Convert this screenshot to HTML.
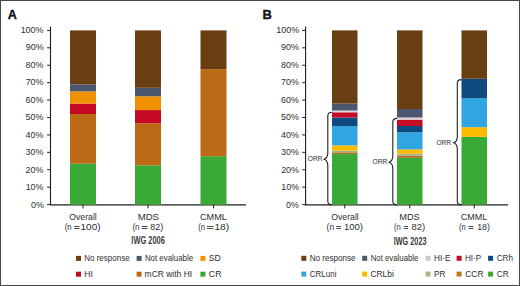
<!DOCTYPE html>
<html><head><meta charset="utf-8"><style>
html,body{margin:0;padding:0;background:#fff;}
.wrap{position:relative;width:520px;height:286px;overflow:hidden;}
svg{display:block;font-family:"Liberation Sans",sans-serif;}
</style></head><body><div class="wrap">
<svg width="520" height="286" viewBox="0 0 520 286">
<rect x="0" y="0" width="520" height="286" fill="#fff"/>
<line x1="50.5" y1="26.6" x2="50.5" y2="205.2" stroke="#1e1e1e" stroke-width="1.1"/>
<line x1="50.0" y1="204.9" x2="246" y2="204.9" stroke="#1e1e1e" stroke-width="1.4"/>
<line x1="47.1" y1="204.60" x2="50.5" y2="204.60" stroke="#1e1e1e" stroke-width="1"/>
<line x1="47.1" y1="187.18" x2="50.5" y2="187.18" stroke="#1e1e1e" stroke-width="1"/>
<line x1="47.1" y1="169.76" x2="50.5" y2="169.76" stroke="#1e1e1e" stroke-width="1"/>
<line x1="47.1" y1="152.34" x2="50.5" y2="152.34" stroke="#1e1e1e" stroke-width="1"/>
<line x1="47.1" y1="134.92" x2="50.5" y2="134.92" stroke="#1e1e1e" stroke-width="1"/>
<line x1="47.1" y1="117.50" x2="50.5" y2="117.50" stroke="#1e1e1e" stroke-width="1"/>
<line x1="47.1" y1="100.08" x2="50.5" y2="100.08" stroke="#1e1e1e" stroke-width="1"/>
<line x1="47.1" y1="82.66" x2="50.5" y2="82.66" stroke="#1e1e1e" stroke-width="1"/>
<line x1="47.1" y1="65.24" x2="50.5" y2="65.24" stroke="#1e1e1e" stroke-width="1"/>
<line x1="47.1" y1="47.82" x2="50.5" y2="47.82" stroke="#1e1e1e" stroke-width="1"/>
<line x1="47.1" y1="30.40" x2="50.5" y2="30.40" stroke="#1e1e1e" stroke-width="1"/>
<rect x="70.00" y="163.66" width="26.00" height="40.94" fill="#39aa35"/>
<rect x="70.00" y="114.02" width="26.00" height="49.65" fill="#bc6a16"/>
<rect x="70.00" y="103.56" width="26.00" height="10.45" fill="#c50a26"/>
<rect x="70.00" y="91.37" width="26.00" height="12.19" fill="#f29100"/>
<rect x="70.00" y="84.40" width="26.00" height="6.97" fill="#4b576f"/>
<rect x="70.00" y="30.40" width="26.00" height="54.00" fill="#6a3e13"/>
<line x1="83" y1="204.6" x2="83" y2="208.4" stroke="#1e1e1e" stroke-width="1"/>
<rect x="135.00" y="165.30" width="26.00" height="39.30" fill="#39aa35"/>
<rect x="135.00" y="123.24" width="26.00" height="42.06" fill="#bc6a16"/>
<rect x="135.00" y="110.06" width="26.00" height="13.17" fill="#c50a26"/>
<rect x="135.00" y="96.26" width="26.00" height="13.81" fill="#f29100"/>
<rect x="135.00" y="87.76" width="26.00" height="8.50" fill="#4b576f"/>
<rect x="135.00" y="30.40" width="26.00" height="57.36" fill="#6a3e13"/>
<line x1="148" y1="204.6" x2="148" y2="208.4" stroke="#1e1e1e" stroke-width="1"/>
<rect x="200.50" y="156.21" width="26.00" height="48.39" fill="#39aa35"/>
<rect x="200.50" y="69.11" width="26.00" height="87.10" fill="#bc6a16"/>
<rect x="200.50" y="30.40" width="26.00" height="38.71" fill="#6a3e13"/>
<line x1="213.5" y1="204.6" x2="213.5" y2="208.4" stroke="#1e1e1e" stroke-width="1"/>
<rect x="74.20" y="226.00" width="5.30" height="1.00" fill="#4a4a4a"/>
<rect x="74.20" y="228.00" width="5.30" height="1.00" fill="#4a4a4a"/>
<rect x="141.70" y="226.00" width="5.80" height="1.00" fill="#4a4a4a"/>
<rect x="141.70" y="228.00" width="5.80" height="1.00" fill="#4a4a4a"/>
<rect x="207.00" y="226.00" width="6.50" height="1.00" fill="#4a4a4a"/>
<rect x="207.00" y="228.00" width="6.50" height="1.00" fill="#4a4a4a"/>
<line x1="305.6" y1="26.6" x2="305.6" y2="205.2" stroke="#1e1e1e" stroke-width="1.1"/>
<line x1="305.1" y1="204.9" x2="508" y2="204.9" stroke="#1e1e1e" stroke-width="1.4"/>
<line x1="302.20000000000005" y1="204.60" x2="305.6" y2="204.60" stroke="#1e1e1e" stroke-width="1"/>
<line x1="302.20000000000005" y1="187.18" x2="305.6" y2="187.18" stroke="#1e1e1e" stroke-width="1"/>
<line x1="302.20000000000005" y1="169.76" x2="305.6" y2="169.76" stroke="#1e1e1e" stroke-width="1"/>
<line x1="302.20000000000005" y1="152.34" x2="305.6" y2="152.34" stroke="#1e1e1e" stroke-width="1"/>
<line x1="302.20000000000005" y1="134.92" x2="305.6" y2="134.92" stroke="#1e1e1e" stroke-width="1"/>
<line x1="302.20000000000005" y1="117.50" x2="305.6" y2="117.50" stroke="#1e1e1e" stroke-width="1"/>
<line x1="302.20000000000005" y1="100.08" x2="305.6" y2="100.08" stroke="#1e1e1e" stroke-width="1"/>
<line x1="302.20000000000005" y1="82.66" x2="305.6" y2="82.66" stroke="#1e1e1e" stroke-width="1"/>
<line x1="302.20000000000005" y1="65.24" x2="305.6" y2="65.24" stroke="#1e1e1e" stroke-width="1"/>
<line x1="302.20000000000005" y1="47.82" x2="305.6" y2="47.82" stroke="#1e1e1e" stroke-width="1"/>
<line x1="302.20000000000005" y1="30.40" x2="305.6" y2="30.40" stroke="#1e1e1e" stroke-width="1"/>
<rect x="332.00" y="154.08" width="25.50" height="50.52" fill="#39aa35"/>
<rect x="332.00" y="152.34" width="25.50" height="1.74" fill="#b0702a"/>
<rect x="332.00" y="150.60" width="25.50" height="1.74" fill="#aeae7c"/>
<rect x="332.00" y="145.37" width="25.50" height="5.23" fill="#fcba00"/>
<rect x="332.00" y="126.21" width="25.50" height="19.16" fill="#2fa6e1"/>
<rect x="332.00" y="117.50" width="25.50" height="8.71" fill="#0d4a7f"/>
<rect x="332.00" y="112.27" width="25.50" height="5.23" fill="#c50a26"/>
<rect x="332.00" y="110.53" width="25.50" height="1.74" fill="#dcd6da"/>
<rect x="332.00" y="103.56" width="25.50" height="6.97" fill="#4b576f"/>
<rect x="332.00" y="30.40" width="25.50" height="73.16" fill="#6a3e13"/>
<line x1="344.75" y1="204.6" x2="344.75" y2="208.4" stroke="#1e1e1e" stroke-width="1"/>
<path d="M332,112.3 C329.0,112.3 327.8,113.5 327.8,115.89999999999999 L327.8,153.0 C327.8,156.2 326.6,158.2 324.2,159.2 C326.6,160.2 327.8,162.2 327.8,165.39999999999998 L327.8,201.3 C327.8,203.70000000000002 329.0,204.9 332,204.9" fill="none" stroke="#222" stroke-width="1.1"/>
<rect x="397.00" y="157.86" width="25.50" height="46.74" fill="#39aa35"/>
<rect x="397.00" y="155.74" width="25.50" height="2.12" fill="#b0702a"/>
<rect x="397.00" y="153.61" width="25.50" height="2.12" fill="#aeae7c"/>
<rect x="397.00" y="149.37" width="25.50" height="4.25" fill="#fcba00"/>
<rect x="397.00" y="132.37" width="25.50" height="17.00" fill="#2fa6e1"/>
<rect x="397.00" y="126.00" width="25.50" height="6.37" fill="#0d4a7f"/>
<rect x="397.00" y="119.62" width="25.50" height="6.37" fill="#c50a26"/>
<rect x="397.00" y="117.50" width="25.50" height="2.12" fill="#dcd6da"/>
<rect x="397.00" y="109.00" width="25.50" height="8.50" fill="#4b576f"/>
<rect x="397.00" y="30.40" width="25.50" height="78.60" fill="#6a3e13"/>
<line x1="409.75" y1="204.6" x2="409.75" y2="208.4" stroke="#1e1e1e" stroke-width="1"/>
<path d="M397,118.4 C394.0,118.4 392.8,119.60000000000001 392.8,122.0 L392.8,156.05 C392.8,159.25 391.6,161.25 389.2,162.25 C391.6,163.25 392.8,165.25 392.8,168.45 L392.8,201.3 C392.8,203.70000000000002 394.0,204.9 397,204.9" fill="none" stroke="#222" stroke-width="1.1"/>
<rect x="461.50" y="136.86" width="25.50" height="67.74" fill="#39aa35"/>
<rect x="461.50" y="127.18" width="25.50" height="9.68" fill="#fcba00"/>
<rect x="461.50" y="98.14" width="25.50" height="29.03" fill="#2fa6e1"/>
<rect x="461.50" y="78.79" width="25.50" height="19.36" fill="#0d4a7f"/>
<rect x="461.50" y="30.40" width="25.50" height="48.39" fill="#6a3e13"/>
<line x1="474.25" y1="204.6" x2="474.25" y2="208.4" stroke="#1e1e1e" stroke-width="1"/>
<path d="M461.5,79.6 C458.5,79.6 457.3,80.8 457.3,83.19999999999999 L457.3,136.65 C457.3,139.85 456.1,141.85 453.7,142.85 C456.1,143.85 457.3,145.85 457.3,149.04999999999998 L457.3,201.3 C457.3,203.70000000000002 458.5,204.9 461.5,204.9" fill="none" stroke="#222" stroke-width="1.1"/>
<rect x="336.20" y="226.00" width="4.80" height="1.00" fill="#4a4a4a"/>
<rect x="336.20" y="228.00" width="4.80" height="1.00" fill="#4a4a4a"/>
<rect x="403.80" y="226.00" width="4.40" height="1.00" fill="#4a4a4a"/>
<rect x="403.80" y="228.00" width="4.40" height="1.00" fill="#4a4a4a"/>
<rect x="468.40" y="226.00" width="5.10" height="1.00" fill="#4a4a4a"/>
<rect x="468.40" y="228.00" width="5.10" height="1.00" fill="#4a4a4a"/>
<rect x="76.00" y="255.90" width="5.00" height="5.00" fill="#6a3e13"/>
<rect x="136.60" y="255.90" width="5.00" height="5.00" fill="#4b576f"/>
<rect x="200.40" y="255.90" width="5.00" height="5.00" fill="#f29100"/>
<rect x="76.00" y="271.70" width="5.00" height="5.00" fill="#c50a26"/>
<rect x="136.60" y="271.70" width="5.00" height="5.00" fill="#bc6a16"/>
<rect x="200.40" y="271.70" width="5.00" height="5.00" fill="#39aa35"/>
<rect x="301.30" y="255.80" width="5.00" height="5.00" fill="#6a3e13"/>
<rect x="362.20" y="255.80" width="5.00" height="5.00" fill="#4b576f"/>
<rect x="425.60" y="255.80" width="5.00" height="5.00" fill="#c9c8cc"/>
<rect x="456.60" y="255.80" width="5.00" height="5.00" fill="#c50a26"/>
<rect x="488.10" y="255.80" width="5.00" height="5.00" fill="#0d4a7f"/>
<rect x="301.30" y="271.60" width="5.00" height="5.00" fill="#2fa6e1"/>
<rect x="362.20" y="271.60" width="5.00" height="5.00" fill="#fcba00"/>
<rect x="425.60" y="271.60" width="5.00" height="5.00" fill="#a9b486"/>
<rect x="456.60" y="271.60" width="5.00" height="5.00" fill="#bd7722"/>
<rect x="488.10" y="271.60" width="5.00" height="5.00" fill="#39aa35"/>
<text x="0" y="18.60" font-size="13.5" font-weight="bold" stroke="#111" stroke-width="0.35" fill="#111" transform="matrix(0.9351 0 0 1 7.805 0)">A</text>
<text x="0" y="208.00" font-size="8.3" fill="#2e2e2e" transform="matrix(1.0800 0 0 1 30.950 0)">0%</text>
<text x="0" y="190.00" font-size="8.3" fill="#2e2e2e" transform="matrix(1.0800 0 0 1 25.642 0)">10%</text>
<text x="0" y="173.00" font-size="8.3" fill="#2e2e2e" transform="matrix(1.0800 0 0 1 25.562 0)">20%</text>
<text x="0" y="155.00" font-size="8.3" fill="#2e2e2e" transform="matrix(1.0800 0 0 1 25.480 0)">30%</text>
<text x="0" y="138.00" font-size="8.3" fill="#2e2e2e" transform="matrix(1.0800 0 0 1 25.463 0)">40%</text>
<text x="0" y="120.00" font-size="8.3" fill="#2e2e2e" transform="matrix(1.0800 0 0 1 25.570 0)">50%</text>
<text x="0" y="103.00" font-size="8.3" fill="#2e2e2e" transform="matrix(1.0800 0 0 1 25.490 0)">60%</text>
<text x="0" y="85.00" font-size="8.3" fill="#2e2e2e" transform="matrix(1.0800 0 0 1 25.645 0)">70%</text>
<text x="0" y="68.00" font-size="8.3" fill="#2e2e2e" transform="matrix(1.0800 0 0 1 25.463 0)">80%</text>
<text x="0" y="50.00" font-size="8.3" fill="#2e2e2e" transform="matrix(1.0800 0 0 1 25.855 0)">90%</text>
<text x="0" y="33.00" font-size="8.3" fill="#2e2e2e" transform="matrix(1.0800 0 0 1 20.641 0)">100%</text>
<text x="0" y="219.60" font-size="8.5" fill="#2e2e2e" transform="matrix(1.0214 0 0 1 69.297 0)">Overall</text>
<text x="0" y="219.60" font-size="8.5" fill="#2e2e2e" transform="matrix(1.1258 0 0 1 137.665 0)">MDS</text>
<text x="0" y="219.60" font-size="8.5" fill="#2e2e2e" transform="matrix(1.0782 0 0 1 199.987 0)">CMML</text>
<text x="0" y="229.60" font-size="8.3" fill="#2e2e2e" transform="matrix(0.9455 0 0 1 64.719 0)">(n</text>
<text x="0" y="229.60" font-size="8.3" fill="#2e2e2e" transform="matrix(1.2091 0 0 1 80.537 0)">100)</text>
<text x="0" y="229.60" font-size="8.3" fill="#2e2e2e" transform="matrix(0.9667 0 0 1 132.406 0)">(n</text>
<text x="0" y="229.60" font-size="8.3" fill="#2e2e2e" transform="matrix(1.0760 0 0 1 150.338 0)">82)</text>
<text x="0" y="229.60" font-size="8.3" fill="#2e2e2e" transform="matrix(0.9387 0 0 1 198.274 0)">(n</text>
<text x="0" y="229.60" font-size="8.3" fill="#2e2e2e" transform="matrix(1.2291 0 0 1 214.409 0)">18)</text>
<text x="0" y="244.00" font-size="10.2" font-weight="bold" fill="#3c3c3c" transform="matrix(0.7290 0 0 1 131.357 0)">IWG 2006</text>
<text x="0" y="18.60" font-size="13.5" font-weight="bold" stroke="#111" stroke-width="0.35" fill="#111" transform="matrix(0.9566 0 0 1 262.617 0)">B</text>
<text x="0" y="208.00" font-size="8.3" fill="#2e2e2e" transform="matrix(1.0800 0 0 1 286.032 0)">0%</text>
<text x="0" y="190.00" font-size="8.3" fill="#2e2e2e" transform="matrix(1.0800 0 0 1 281.205 0)">10%</text>
<text x="0" y="173.00" font-size="8.3" fill="#2e2e2e" transform="matrix(1.0800 0 0 1 281.145 0)">20%</text>
<text x="0" y="155.00" font-size="8.3" fill="#2e2e2e" transform="matrix(1.0800 0 0 1 281.019 0)">30%</text>
<text x="0" y="138.00" font-size="8.3" fill="#2e2e2e" transform="matrix(1.0800 0 0 1 281.019 0)">40%</text>
<text x="0" y="120.00" font-size="8.3" fill="#2e2e2e" transform="matrix(1.0800 0 0 1 281.108 0)">50%</text>
<text x="0" y="103.00" font-size="8.3" fill="#2e2e2e" transform="matrix(1.0800 0 0 1 281.030 0)">60%</text>
<text x="0" y="85.00" font-size="8.3" fill="#2e2e2e" transform="matrix(1.0800 0 0 1 281.070 0)">70%</text>
<text x="0" y="68.00" font-size="8.3" fill="#2e2e2e" transform="matrix(1.0800 0 0 1 281.019 0)">80%</text>
<text x="0" y="50.00" font-size="8.3" fill="#2e2e2e" transform="matrix(1.0800 0 0 1 281.019 0)">90%</text>
<text x="0" y="33.00" font-size="8.3" fill="#2e2e2e" transform="matrix(1.0800 0 0 1 276.211 0)">100%</text>
<text x="0" y="161.10" font-size="6.7" fill="#2e2e2e" transform="matrix(0.9991 0 0 1 307.807 0)">ORR</text>
<text x="0" y="164.15" font-size="6.7" fill="#2e2e2e" transform="matrix(0.9894 0 0 1 372.599 0)">ORR</text>
<text x="0" y="144.75" font-size="6.7" fill="#2e2e2e" transform="matrix(0.9875 0 0 1 436.432 0)">ORR</text>
<text x="0" y="220.10" font-size="8.5" fill="#2e2e2e" transform="matrix(1.0214 0 0 1 331.297 0)">Overall</text>
<text x="0" y="220.10" font-size="8.5" fill="#2e2e2e" transform="matrix(1.0850 0 0 1 399.289 0)">MDS</text>
<text x="0" y="220.10" font-size="8.5" fill="#2e2e2e" transform="matrix(1.0600 0 0 1 460.752 0)">CMML</text>
<text x="0" y="230.10" font-size="8.3" fill="#2e2e2e" transform="matrix(1.0316 0 0 1 326.530 0)">(n</text>
<text x="0" y="230.10" font-size="8.3" fill="#2e2e2e" transform="matrix(1.1493 0 0 1 343.962 0)">100)</text>
<text x="0" y="230.10" font-size="8.3" fill="#2e2e2e" transform="matrix(0.9156 0 0 1 393.964 0)">(n</text>
<text x="0" y="230.10" font-size="8.3" fill="#2e2e2e" transform="matrix(1.1379 0 0 1 411.527 0)">82)</text>
<text x="0" y="230.10" font-size="8.3" fill="#2e2e2e" transform="matrix(0.9156 0 0 1 458.964 0)">(n</text>
<text x="0" y="230.10" font-size="8.3" fill="#2e2e2e" transform="matrix(1.0637 0 0 1 477.200 0)">18)</text>
<text x="0" y="244.60" font-size="10.2" font-weight="bold" fill="#3c3c3c" transform="matrix(0.7149 0 0 1 393.696 0)">IWG 2023</text>
<text x="0" y="260.90" font-size="8.2" fill="#2e2e2e" transform="matrix(0.9768 0 0 1 84.244 0)">No response</text>
<text x="0" y="260.90" font-size="8.2" fill="#2e2e2e" transform="matrix(0.9621 0 0 1 144.903 0)">Not evaluable</text>
<text x="0" y="260.90" font-size="8.2" fill="#2e2e2e" transform="matrix(1.0536 0 0 1 208.640 0)">SD</text>
<text x="0" y="276.70" font-size="8.2" fill="#2e2e2e" transform="matrix(1.0420 0 0 1 84.219 0)">HI</text>
<text x="0" y="276.70" font-size="8.2" fill="#2e2e2e" transform="matrix(1.0337 0 0 1 144.592 0)">mCR with HI</text>
<text x="0" y="276.70" font-size="8.2" fill="#2e2e2e" transform="matrix(1.0901 0 0 1 208.789 0)">CR</text>
<text x="0" y="260.80" font-size="8.2" fill="#2e2e2e" transform="matrix(0.9881 0 0 1 309.676 0)">No response</text>
<text x="0" y="260.80" font-size="8.2" fill="#2e2e2e" transform="matrix(0.9555 0 0 1 370.650 0)">Not evaluable</text>
<text x="0" y="260.80" font-size="8.2" fill="#2e2e2e" transform="matrix(1.0027 0 0 1 433.963 0)">HI·E</text>
<text x="0" y="260.80" font-size="8.2" fill="#2e2e2e" transform="matrix(0.9836 0 0 1 465.020 0)">HI·P</text>
<text x="0" y="260.80" font-size="8.2" fill="#2e2e2e" transform="matrix(0.9909 0 0 1 496.739 0)">CRh</text>
<text x="0" y="276.60" font-size="8.2" fill="#2e2e2e" transform="matrix(0.9779 0 0 1 309.762 0)">CRLuni</text>
<text x="0" y="276.60" font-size="8.2" fill="#2e2e2e" transform="matrix(1.0278 0 0 1 370.459 0)">CRLbi</text>
<text x="0" y="276.60" font-size="8.2" fill="#2e2e2e" transform="matrix(1.0106 0 0 1 433.990 0)">PR</text>
<text x="0" y="276.60" font-size="8.2" fill="#2e2e2e" transform="matrix(1.0297 0 0 1 465.211 0)">CCR</text>
<text x="0" y="276.60" font-size="8.2" fill="#2e2e2e" transform="matrix(1.0052 0 0 1 496.698 0)">CR</text>
<rect x="0.5" y="0.5" width="519" height="285" fill="none" stroke="#474747" stroke-width="1"/>
</svg></div></body></html>
